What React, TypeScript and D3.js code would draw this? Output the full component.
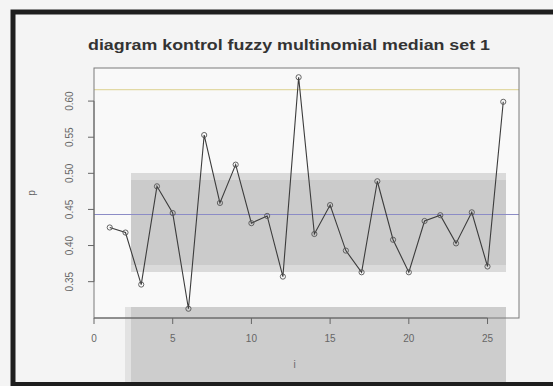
import { useEffect, useRef } from 'react';
import * as d3 from 'd3';

// sample proportions p for i = 1..26
const sampleIndex = d3.range(1, 27);
const pValues = [
  0.425, 0.418, 0.346, 0.482, 0.445, 0.3125, 0.553, 0.459, 0.512, 0.431,
  0.441, 0.357, 0.633, 0.416, 0.456, 0.393, 0.363, 0.489, 0.408, 0.363,
  0.434, 0.442, 0.403, 0.446, 0.371, 0.599,
];
const centerLine = 0.443;
const upperLimit = 0.616;
const xTicks = [0, 5, 10, 15, 20, 25];
const yTicks = [0.35, 0.4, 0.45, 0.5, 0.55, 0.6];

const TITLE = 'diagram kontrol fuzzy multinomial median set 1';

// grey blocks from the picture's watermark (pixel space)
const watermark = [
  { x: 131, y: 173, w: 375, h: 99, fill: '#dadada' },
  { x: 131, y: 180, w: 375, h: 85, fill: '#cbcbcb' },
  { x: 125, y: 307, w: 6, h: 78, fill: '#e2e2e2' },
  { x: 131, y: 307, w: 375, h: 78, fill: '#cdcdcd' },
];

export default function App() {
  const svgRef = useRef<SVGSVGElement>(null);

  useEffect(() => {
    if (!svgRef.current) return;
    const width = 553;
    const height = 386;
    const svg = d3.select(svgRef.current);
    svg.selectAll('*').remove();

    const box = { left: 94, right: 519, top: 68, bottom: 318 };
    const font = 'Liberation Sans, Arial, sans-serif';

    svg.append('rect').attr('width', width).attr('height', height).attr('fill', '#f4f4f4');
    svg.append('rect')
      .attr('x', box.left).attr('y', box.top)
      .attr('width', box.right - box.left).attr('height', box.bottom - box.top)
      .attr('fill', '#f9f9f9');

    // R style 4% padding
    const [pMin, pMax] = d3.extent(pValues) as [number, number];
    const pad = (pMax - pMin) * 0.04;
    const x = d3.scaleLinear().domain([0, 27]).range([box.left, box.right]);
    const y = d3.scaleLinear().domain([pMin - pad, pMax + pad]).range([box.bottom, box.top]);

    svg.selectAll('.wm')
      .data(watermark)
      .join('rect')
      .attr('class', 'wm')
      .attr('x', (d) => d.x).attr('y', (d) => d.y)
      .attr('width', (d) => d.w).attr('height', (d) => d.h)
      .attr('fill', (d) => d.fill);

    // control lines
    svg.append('line')
      .attr('x1', box.left).attr('x2', box.right)
      .attr('y1', y(upperLimit)).attr('y2', y(upperLimit))
      .attr('stroke', '#e2d9a4').attr('stroke-width', 1.2);
    svg.append('line')
      .attr('x1', box.left).attr('x2', box.right)
      .attr('y1', y(centerLine)).attr('y2', y(centerLine))
      .attr('stroke', '#8c8cc6').attr('stroke-width', 1.2);

    const pts = sampleIndex.map((i, k) => ({ i, p: pValues[k] }));
    const line = d3.line<{ i: number; p: number }>().x((d) => x(d.i)).y((d) => y(d.p));
    svg.append('path')
      .datum(pts)
      .attr('d', line)
      .attr('fill', 'none')
      .attr('stroke', '#3c3c3c')
      .attr('stroke-width', 1.1);
    svg.selectAll('.pt')
      .data(pts)
      .join('circle')
      .attr('class', 'pt')
      .attr('cx', (d) => x(d.i)).attr('cy', (d) => y(d.p))
      .attr('r', 2.6)
      .attr('fill', 'none')
      .attr('stroke', '#555')
      .attr('stroke-width', 0.9);

    // plot box
    svg.append('rect')
      .attr('x', box.left).attr('y', box.top)
      .attr('width', box.right - box.left).attr('height', box.bottom - box.top)
      .attr('fill', 'none').attr('stroke', '#7a7a7a').attr('stroke-width', 1);

    // x axis
    const gx = svg.append('g').attr('transform', `translate(0, ${box.bottom})`);
    gx.append('line').attr('x1', x(0)).attr('x2', x(25)).attr('stroke', '#666');
    gx.selectAll('line.t').data(xTicks).join('line').attr('class', 't')
      .attr('x1', (d) => x(d)).attr('x2', (d) => x(d))
      .attr('y1', 0).attr('y2', 6).attr('stroke', '#666');
    gx.selectAll('text').data(xTicks).join('text')
      .attr('x', (d) => x(d)).attr('y', 24)
      .attr('text-anchor', 'middle')
      .attr('font-family', font).attr('font-size', 10).attr('fill', '#666')
      .text((d) => d);

    // y axis
    const gy = svg.append('g').attr('transform', `translate(${box.left}, 0)`);
    gy.append('line').attr('y1', y(0.35)).attr('y2', y(0.6)).attr('stroke', '#666');
    gy.selectAll('line.t').data(yTicks).join('line').attr('class', 't')
      .attr('y1', (d) => y(d)).attr('y2', (d) => y(d))
      .attr('x1', 0).attr('x2', -6).attr('stroke', '#666');
    gy.selectAll('text').data(yTicks).join('text')
      .attr('transform', (d) => `translate(-25, ${y(d)}) rotate(-90)`)
      .attr('text-anchor', 'middle')
      .attr('dy', '0.35em')
      .attr('font-family', font).attr('font-size', 10).attr('fill', '#666')
      .text((d) => d3.format('.2f')(d));

    // axis titles
    svg.append('text')
      .attr('transform', `translate(31, ${(box.top + box.bottom) / 2}) rotate(-90)`)
      .attr('text-anchor', 'middle').attr('dy', '0.35em')
      .attr('font-family', font).attr('font-size', 10).attr('fill', '#666')
      .text('p');
    svg.append('text')
      .attr('x', (box.left + box.right) / 2 - 12).attr('y', 368)
      .attr('text-anchor', 'middle')
      .attr('font-family', font).attr('font-size', 10).attr('fill', '#666')
      .text('i');

    svg.append('text')
      .attr('x', 88).attr('y', 50)
      .attr('textLength', 402).attr('lengthAdjust', 'spacingAndGlyphs')
      .attr('font-family', font).attr('font-size', 14).attr('font-weight', 'bold')
      .attr('fill', '#333')
      .text(TITLE);

    // dark frame of the screenshot
    svg.append('path')
      .attr('d', `M${width + 5},12 L13,12 L13,384.5 L${width + 5},384.5`)
      .attr('fill', 'none').attr('stroke', '#1e1e1e').attr('stroke-width', 5);
  }, []);

  return (
    <svg
      ref={svgRef}
      width={553}
      height={386}
      style={{ position: 'absolute', left: 0, top: 0, display: 'block' }}
    />
  );
}
